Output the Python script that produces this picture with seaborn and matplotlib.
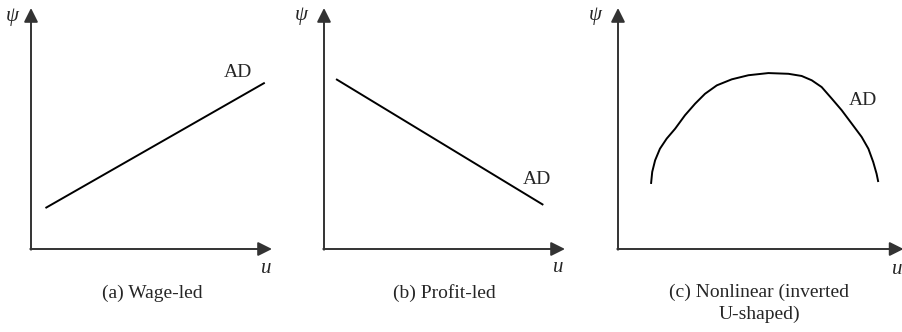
import matplotlib
matplotlib.use("Agg")
import matplotlib.pyplot as plt
import seaborn as sns
import pandas as pd

# Aggregate demand schedules in (u, psi) space
wage_led_u = [0.6, 9.7]
wage_led_psi = [1.7, 6.9]

profit_led_u = [0.5, 9.1]
profit_led_psi = [7.05, 1.83]

nonlinear_u = [1.37, 1.42, 1.54, 1.74, 2.02, 2.37, 2.78, 3.20, 3.61, 4.10,
               4.72, 5.41, 6.24, 7.07, 7.62, 8.04, 8.45, 8.87, 9.28, 9.70,
               10.11, 10.39, 10.59, 10.73, 10.80]
nonlinear_psi = [2.70, 3.20, 3.68, 4.16, 4.58, 4.99, 5.55, 6.03, 6.44, 6.79,
                 7.04, 7.21, 7.30, 7.27, 7.18, 7.00, 6.72, 6.24, 5.76, 5.20,
                 4.65, 4.16, 3.61, 3.12, 2.78]

captions = ["(a) Wage-led", "(b) Profit-led", "(c) Nonlinear (inverted\nU-shaped)"]
curve_label = "AD"

sns.set_theme(style="white")
plt.rcParams["font.family"] = ["Liberation Serif", "DejaVu Serif"]
plt.rcParams["mathtext.fontset"] = "custom"
plt.rcParams["mathtext.it"] = "Liberation Serif:italic"

W, H = 903, 332
fig = plt.figure(figsize=(W / 100, H / 100), dpi=100)
fig.patch.set_facecolor("white")

PX = 24.1  # pixels per data unit
AXIS_COLOR = "#333333"
FS = 14

panels = [
    dict(origin=(31, 249), xmax=10.0, u=wage_led_u, psi=wage_led_psi,
         ad=(8.59, 7.34), ulab=(9.75, -0.79), plab=(-0.75, 9.63),
         cap=(5.02, -1.83), caption=captions[0]),
    dict(origin=(324, 249), xmax=10.0, u=profit_led_u, psi=profit_led_psi,
         ad=(8.84, 2.90), ulab=(9.71, -0.75), plab=(-0.91, 9.68),
         cap=(4.98, -1.83), caption=captions[1]),
    dict(origin=(618, 249), xmax=11.85, u=nonlinear_u, psi=nonlinear_psi,
         ad=(10.17, 6.18), ulab=(11.58, -0.83), plab=(-0.91, 9.68),
         cap=(5.85, -2.26), caption=captions[2]),
]

for p in panels:
    ox, oy = p["origin"]
    ymax = 10.0
    ax = fig.add_axes([ox / W, (H - oy) / H, p["xmax"] * PX / W, ymax * PX / H])
    ax.set_xlim(0, p["xmax"])
    ax.set_ylim(0, ymax)
    ax.set_axis_off()

    df = pd.DataFrame({"u": p["u"], "psi": p["psi"]})
    sns.lineplot(data=df, x="u", y="psi", ax=ax, color="black", lw=1.4,
                 sort=False, solid_joinstyle="round", solid_capstyle="butt",
                 clip_on=False)

    arrow = dict(arrowstyle="-|>,head_length=0.6,head_width=0.3",
                 color=AXIS_COLOR, lw=1.4, mutation_scale=14,
                 shrinkA=0, shrinkB=0)
    ax.annotate("", xy=(p["xmax"], 0), xytext=(-0.03, 0), arrowprops=arrow,
                annotation_clip=False)
    ax.annotate("", xy=(0, ymax), xytext=(0, -0.03), arrowprops=arrow,
                annotation_clip=False)

    ax.text(*p["ad"], curve_label, ha="center", va="center", fontsize=FS)
    ax.text(*p["ulab"], r"$u$", ha="center", va="center", fontsize=FS + 1,
            clip_on=False)
    ax.text(*p["plab"], r"$\psi$", ha="center", va="center", fontsize=FS + 1,
            family="DejaVu Serif", style="italic")
    ax.text(*p["cap"], p["caption"], ha="center", va="center", fontsize=FS,
            linespacing=1.3)

fig.savefig("out.png", dpi=100, facecolor="white")
